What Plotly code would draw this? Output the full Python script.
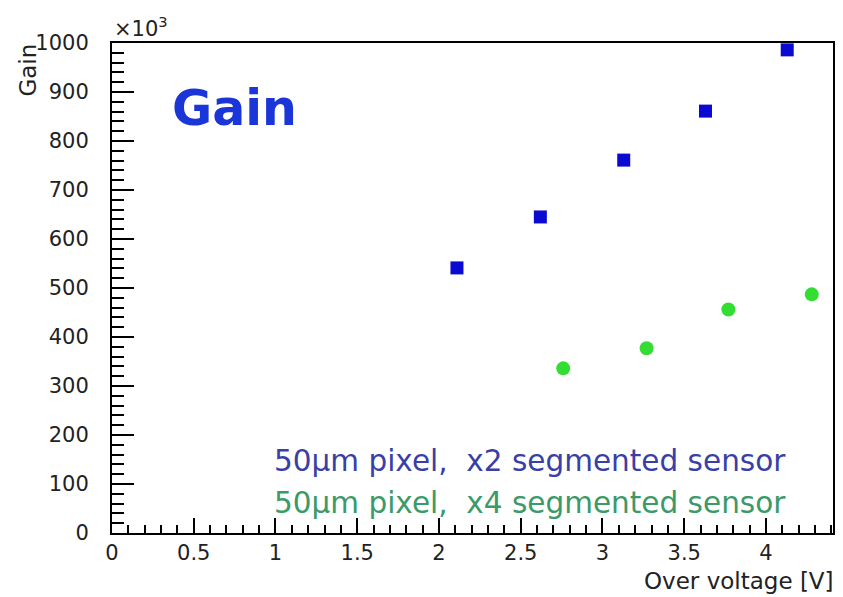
import plotly.graph_objects as go

# over voltage [V] and gain (x10^3)
x2_volt = [2.11, 2.62, 3.13, 3.63, 4.13]
x2_gain = [541, 645, 761, 861, 986]
x4_volt = [2.76, 3.27, 3.77, 4.28]
x4_gain = [336, 377, 456, 487]

x2_label = "50μm pixel,  x2 segmented sensor"
x4_label = "50μm pixel,  x4 segmented sensor"

fig = go.Figure()
fig.add_trace(go.Scatter(x=x2_volt, y=x2_gain, mode='markers', name=x2_label,
                         marker=dict(symbol='square', size=13, color='#0a0ad2')))
fig.add_trace(go.Scatter(x=x4_volt, y=x4_gain, mode='markers', name=x4_label,
                         marker=dict(symbol='circle', size=14, color='#33dd33')))

font = 'DejaVu Sans'
tickfont = dict(family=font, size=21, color='#222222')
fig.update_xaxes(range=[0, 4.41], dtick=0.5, tick0=0, ticks='inside', ticklen=15, tickwidth=1.5,
                 tickcolor='black', showline=True, linecolor='black', linewidth=2, mirror=True,
                 showgrid=False, zeroline=False, tickfont=tickfont, ticklabelstandoff=0,
                 automargin=False,
                 minor=dict(dtick=0.1, ticks='inside', ticklen=8, tickwidth=1.5, tickcolor='black'))
fig.update_yaxes(range=[0, 1000], dtick=100, tick0=0, ticks='inside', ticklen=22, tickwidth=1.5,
                 tickcolor='black', showline=True, linecolor='black', linewidth=2, mirror=True,
                 showgrid=False, zeroline=False, tickfont=tickfont, ticklabelstandoff=17,
                 automargin=False,
                 minor=dict(dtick=20, ticks='inside', ticklen=12, tickwidth=1.5, tickcolor='black'))

ann = [
    dict(text='Gain', x=0.081, y=0.866, xref='paper', yref='paper', xanchor='left', yanchor='middle',
         showarrow=False, font=dict(family=font, size=49, color='#1a35d8', weight='bold')),
    dict(text=x2_label, x=0.222, y=0.147, xref='paper', yref='paper', xanchor='left', yanchor='middle',
         showarrow=False, font=dict(family=font, size=29.5, color='#3a3fa8')),
    dict(text=x4_label, x=0.222, y=0.061, xref='paper', yref='paper', xanchor='left', yanchor='middle',
         showarrow=False, font=dict(family=font, size=29.5, color='#3b9a68')),
    dict(text='×10<sup>3</sup>', x=0, y=1.0, xref='paper', yref='paper', xanchor='left', yanchor='bottom',
         showarrow=False, font=dict(family=font, size=21, color='#222222')),
    dict(text='Gain', x=-0.117, y=0.945, xref='paper', yref='paper', xanchor='center', yanchor='middle',
         textangle=-90, showarrow=False, font=dict(family=font, size=23, color='#222222')),
    dict(text='Over voltage [V]', x=1.004, y=-0.068, xref='paper', yref='paper', xanchor='right', yanchor='top',
         showarrow=False, font=dict(family=font, size=23, color='#222222')),
]

# page body has an 8px margin, so margins are shifted to put the frame where it belongs
fig.update_layout(width=843, height=597, margin=dict(l=104, r=18, t=35, b=72),
                  paper_bgcolor='white', plot_bgcolor='white', showlegend=False,
                  annotations=ann)
fig.write_html("out.html")
